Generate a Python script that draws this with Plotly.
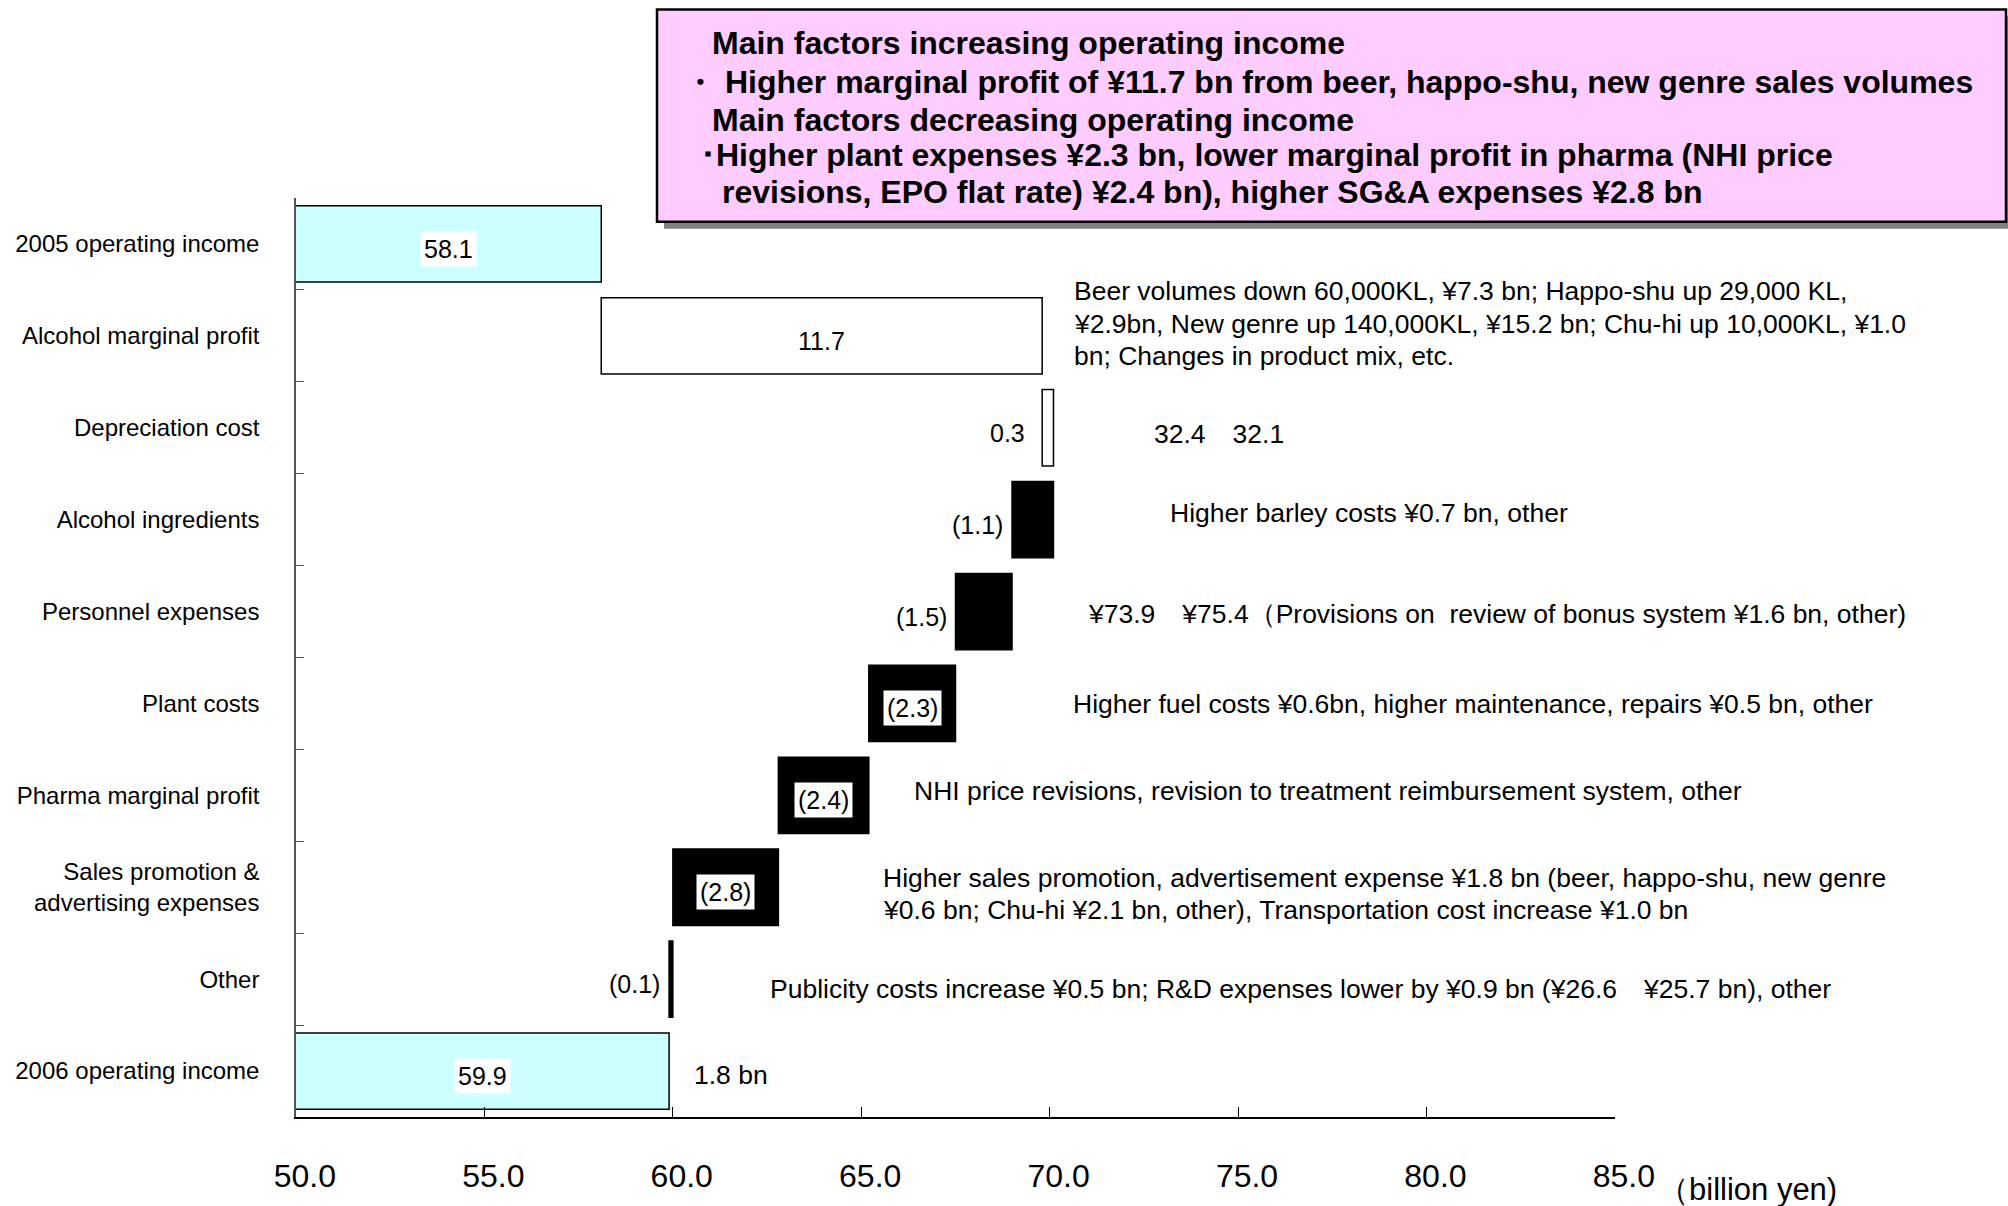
import numpy as np
import plotly.graph_objects as go

# ---------------- data (billion yen) ----------------
categories = [
    "2005 operating income",
    "Alcohol marginal profit",
    "Depreciation cost",
    "Alcohol ingredients",
    "Personnel expenses",
    "Plant costs",
    "Pharma marginal profit",
    "Sales promotion &<br>advertising expenses",
    "Other",
    "2006 operating income",
]
income_2005 = 58.1
income_2006 = 59.9
changes = [11.7, 0.3, -1.1, -1.5, -2.3, -2.4, -2.8, -0.1]
x_tick_values = [50.0, 55.0, 60.0, 65.0, 70.0, 75.0, 80.0, 85.0]

headline_lines = [
    "Main factors increasing operating income",
    "・ Higher marginal profit of ¥11.7 bn from beer, happo-shu, new genre sales volumes",
    "Main factors decreasing operating income",
    "･Higher plant expenses ¥2.3 bn, lower marginal profit in pharma (NHI price",
    "revisions, EPO flat rate) ¥2.4 bn), higher SG&A expenses ¥2.8 bn",
]

# one entry per printed line of the side notes
note_lines = [
    "Beer volumes down 60,000KL, ¥7.3 bn; Happo-shu up 29,000 KL,",
    "¥2.9bn, New genre up 140,000KL, ¥15.2 bn; Chu-hi up 10,000KL, ¥1.0",
    "bn; Changes in product mix, etc.",
    "32.4\u300032.1",
    "Higher barley costs ¥0.7 bn, other",
    "¥73.9\u3000¥75.4（Provisions on\u00a0 review of bonus system ¥1.6 bn, other)",
    "Higher fuel costs ¥0.6bn, higher maintenance, repairs ¥0.5 bn, other",
    "NHI price revisions, revision to treatment reimbursement system, other",
    "Higher sales promotion, advertisement expense ¥1.8 bn (beer, happo-shu, new genre",
    "¥0.6 bn; Chu-hi ¥2.1 bn, other), Transportation cost increase ¥1.0 bn",
    "Publicity costs increase ¥0.5 bn; R&D expenses lower by ¥0.9 bn (¥26.6\u3000¥25.7 bn), other",
    "1.8 bn",
]
axis_unit = "（billion yen)"

# ---------------- page geometry ----------------
W, H = 2008, 1206
L, R, T, B = 296, 393, 198, 82
PW, PH = W - L - R, H - T - B
FONT = "Liberation Sans, Arial, sans-serif"


def px(x):
    return (x - L) / PW


def py(y):
    return (H - B - y) / PH


# note placement: left edge and vertical centre in page pixels
note_pos = [(1072, 292), (1072, 325), (1072, 357), (1152, 436), (1168, 515),
            (1086, 617), (1071, 708), (912, 796), (881, 883), (881, 915),
            (768, 995), (692, 1082)]

# ---------------- waterfall geometry ----------------
levels = income_2005 + np.concatenate([[0.0], np.cumsum(changes)])
bar_base = [0.0] + list(levels[:-1]) + [0.0]
bar_len = [income_2005] + list(changes) + [income_2006]
bar_fill = ["#CCFFFF"] + ["white" if c > 0 else "black" for c in changes] + ["#CCFFFF"]

fig = go.Figure()
fig.add_trace(go.Bar(
    y=categories,
    x=bar_len,
    base=bar_base,
    orientation="h",
    width=0.83,
    marker=dict(color=bar_fill, line=dict(color="black", width=1.5)),
    hoverinfo="skip",
))


def fmt(v):
    return f"{v:.1f}" if v >= 0 else f"({abs(v):.1f})"


# value labels: centred on a white patch, or set just left of thin bars
label_side = ["center", "center", "left", "left", "left",
              "center", "center", "center", "left", "center"]
label_gap = [0, 0, 15, 7, 7, 0, 0, 0, 7, 0]
x_min = x_tick_values[0]
annotations = []
for i, cat in enumerate(categories):
    a, b = bar_base[i], bar_base[i] + bar_len[i]
    lo, hi = max(min(a, b), x_min), max(a, b)
    if label_side[i] == "center":
        annotations.append(dict(
            x=(lo + hi) / 2, y=cat, xref="x", yref="y", text=fmt(bar_len[i]),
            showarrow=False, xanchor="center", yanchor="middle", yshift=-5,
            bgcolor="white", borderpad=3,
            font=dict(family=FONT, size=25, color="black"),
        ))
    else:
        annotations.append(dict(
            x=lo, y=cat, xref="x", yref="y", text=fmt(bar_len[i]),
            showarrow=False, xanchor="right", yanchor="middle", yshift=-5,
            xshift=-label_gap[i],
            font=dict(family=FONT, size=25, color="black"),
        ))

for text, (nx, ny) in zip(note_lines, note_pos):
    annotations.append(dict(
        x=px(nx), y=py(ny), xref="paper", yref="paper", text=text,
        showarrow=False, xanchor="left", yanchor="middle", align="left",
        font=dict(family=FONT, size=26.5, color="black"),
    ))

# headline box text
head_x = [710, 682, 710, 698, 720]
head_y = [42, 81, 119, 155, 192]
for text, hx, hy in zip(headline_lines, head_x, head_y):
    annotations.append(dict(
        x=px(hx), y=py(hy), xref="paper", yref="paper", text=f"<b>{text}</b>",
        showarrow=False, xanchor="left", yanchor="middle", align="left",
        font=dict(family=FONT, size=32, color="black"),
    ))

annotations.append(dict(
    x=px(1656), y=py(1197), xref="paper", yref="paper", text=axis_unit,
    showarrow=False, xanchor="left", yanchor="middle",
    font=dict(family=FONT, size=31, color="black"),
))

shapes = [
    dict(type="rect", xref="paper", yref="paper", layer="above",
         x0=px(664), x1=px(2014), y0=py(229), y1=py(15),
         fillcolor="#808080", line=dict(width=0)),
    dict(type="rect", xref="paper", yref="paper", layer="above",
         x0=px(657), x1=px(2006), y0=py(222), y1=py(8),
         fillcolor="#FFCCFF", line=dict(color="black", width=2.5)),
]

fig.update_layout(
    width=W, height=H,
    margin=dict(l=L, r=R, t=T, b=B, pad=0),
    paper_bgcolor="white", plot_bgcolor="white",
    showlegend=False,
    annotations=annotations,
    shapes=shapes,
    xaxis=dict(
        range=[x_tick_values[0], x_tick_values[-1]],
        tickvals=x_tick_values,
        ticktext=["\u00a0\u00a0" + f"{v:.1f}" for v in x_tick_values],
        ticks="inside", ticklen=10, tickcolor="black", tickwidth=1,
        showline=True, linecolor="black", linewidth=2,
        showgrid=False, zeroline=False,
        ticklabelstandoff=30,
        tickfont=dict(family=FONT, size=32, color="black"),
    ),
    yaxis=dict(
        type="category",
        categoryorder="array", categoryarray=categories,
        autorange="reversed",
        ticks="inside", tickson="boundaries", ticklen=8,
        tickcolor="#555555", tickwidth=1,
        showline=True, linecolor="#555555", linewidth=1.5,
        showgrid=False, zeroline=False,
        ticklabelstandoff=30,
        tickfont=dict(family=FONT, size=24, color="black"),
    ),
)

fig.write_html("out.html")
